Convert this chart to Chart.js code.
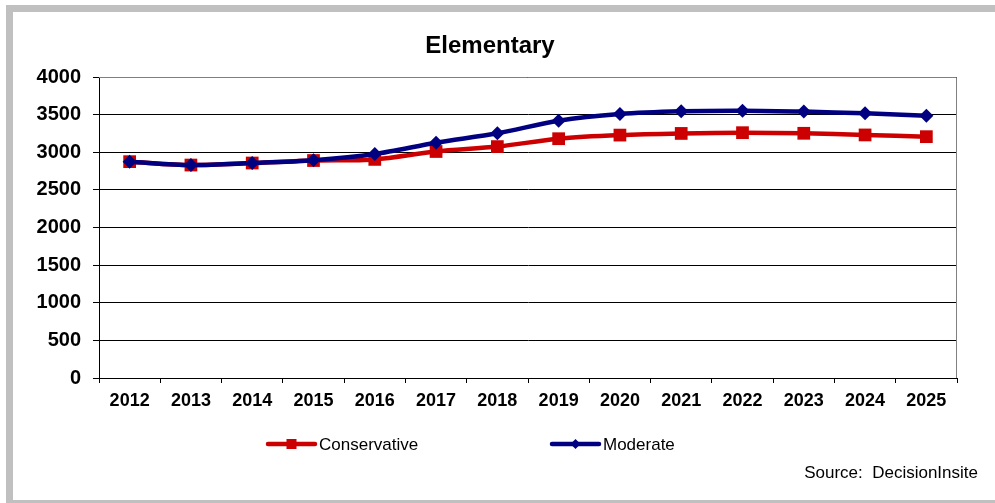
<!DOCTYPE html>
<html>
<head>
<meta charset="utf-8">
<script src="https://cdn.jsdelivr.net/npm/chart.js@4"></script>
<style>
  body { margin: 0; background: #fff; }
  canvas { display: block; }
</style>
</head>
<body>
<canvas id="chart" width="995" height="503"></canvas>
<script>
// chart data
const years = ["2012", "2013", "2014", "2015", "2016", "2017", "2018", "2019", "2020", "2021", "2022", "2023", "2024", "2025"];
const conservative = [2875, 2830, 2857, 2890, 2905, 3010, 3075, 3180, 3228, 3250, 3260, 3252, 3230, 3207];
const moderate = [2875, 2830, 2857, 2895, 2977, 3127, 3252, 3419, 3508, 3544, 3552, 3540, 3517, 3486];
const yTicks = [0, 500, 1000, 1500, 2000, 2500, 3000, 3500, 4000];

const FONT = "'Liberation Sans', Arial, sans-serif";

// frame, title, legend and source line
const decorPlugin = {
    id: "decor",
    beforeDraw(chart) {
        const ctx = chart.ctx;
        ctx.save();
        ctx.fillStyle = "#fff";
        ctx.fillRect(0, 0, chart.width, chart.height);
        ctx.fillStyle = "#c0c0c0";
        ctx.fillRect(6, 5, chart.width - 6, 7);
        ctx.fillRect(6, 5, 7, chart.height - 5);
        ctx.fillRect(6, 500, chart.width - 6, 3);
        ctx.restore();
    },
    afterDatasetsDraw(chart) {
        const ctx = chart.ctx;
        const a = chart.chartArea;
        ctx.save();
        // gray top/right border of plot
        ctx.strokeStyle = "#808080";
        ctx.lineWidth = 1;
        ctx.beginPath();
        ctx.moveTo(a.left, a.top + 0.5);
        ctx.lineTo(a.right - 0.5, a.top + 0.5);
        ctx.lineTo(a.right - 0.5, a.bottom);
        ctx.stroke();

        ctx.fillStyle = "#000";
        ctx.font = "bold 24px " + FONT;
        ctx.textAlign = "center";
        ctx.textBaseline = "middle";
        ctx.fillText("Elementary", 490, 46);

        // legend
        const items = [
            { ds: chart.data.datasets[1], x: 268 },
            { ds: chart.data.datasets[0], x: 552 }
        ];
        ctx.font = "17px " + FONT;
        ctx.textAlign = "left";
        items.forEach(it => {
            const y = 444;
            ctx.strokeStyle = it.ds.borderColor;
            ctx.lineWidth = 4.5;
            ctx.lineCap = "round";
            ctx.beginPath();
            ctx.moveTo(it.x, y);
            ctx.lineTo(it.x + 47, y);
            ctx.stroke();
            ctx.fillStyle = it.ds.borderColor;
            const cx = it.x + 23.5;
            if (it.ds.pointStyle === "rect") {
                ctx.fillRect(cx - 5, y - 5, 10, 10);
            } else {
                ctx.beginPath();
                ctx.moveTo(cx, y - 5);
                ctx.lineTo(cx + 5, y);
                ctx.lineTo(cx, y + 5);
                ctx.lineTo(cx - 5, y);
                ctx.closePath();
                ctx.fill();
            }
            ctx.fillStyle = "#000";
            ctx.fillText(it.ds.label, it.x + 51, y + 1);
        });

        ctx.textAlign = "right";
        ctx.fillText("Source:  DecisionInsite", 978, 473);
        ctx.restore();
    }
};

new Chart(document.getElementById("chart"), {
    type: "line",
    data: {
        labels: years,
        datasets: [
            {
                label: "Moderate",
                data: moderate,
                borderColor: "#000080",
                backgroundColor: "#000080",
                borderWidth: 4.5,
                pointStyle: "rectRot",
                pointRadius: 7,
                pointBorderWidth: 0,
                tension: 0.3,
                order: 0
            },
            {
                label: "Conservative",
                data: conservative,
                borderColor: "#cc0000",
                backgroundColor: "#cc0000",
                borderWidth: 4.5,
                pointStyle: "rect",
                pointRadius: 9,
                pointBorderWidth: 0,
                tension: 0.3,
                order: 1
            }
        ]
    },
    options: {
        responsive: false,
        animation: false,
        layout: { padding: { left: 0, right: 38, top: 77, bottom: 95 } },
        plugins: {
            legend: { display: false },
            title: { display: false },
            tooltip: { enabled: false }
        },
        scales: {
            x: {
                offset: true,
                grid: {
                    offset: true,
                    drawOnChartArea: false,
                    drawTicks: true,
                    tickLength: 5,
                    color: "#000"
                },
                border: { color: "#000", width: 1 },
                ticks: {
                    color: "#000",
                    padding: 7,
                    maxRotation: 0,
                    font: { family: FONT, size: 18, weight: "bold" }
                },
                afterFit(scale) { scale.height = 30; }
            },
            y: {
                min: 0,
                max: 4000,
                afterBuildTicks(scale) {
                    scale.ticks = yTicks.map(v => ({ value: v }));
                },
                grid: {
                    color: "#000",
                    tickLength: 6,
                    drawTicks: true
                },
                border: { color: "#000", width: 1 },
                ticks: {
                    color: "#000",
                    padding: 12,
                    font: { family: FONT, size: 20, weight: "bold" },
                    callback: v => String(v)
                },
                afterFit(scale) { scale.width = 99; }
            }
        }
    },
    plugins: [decorPlugin]
});
</script>
</body>
</html>
